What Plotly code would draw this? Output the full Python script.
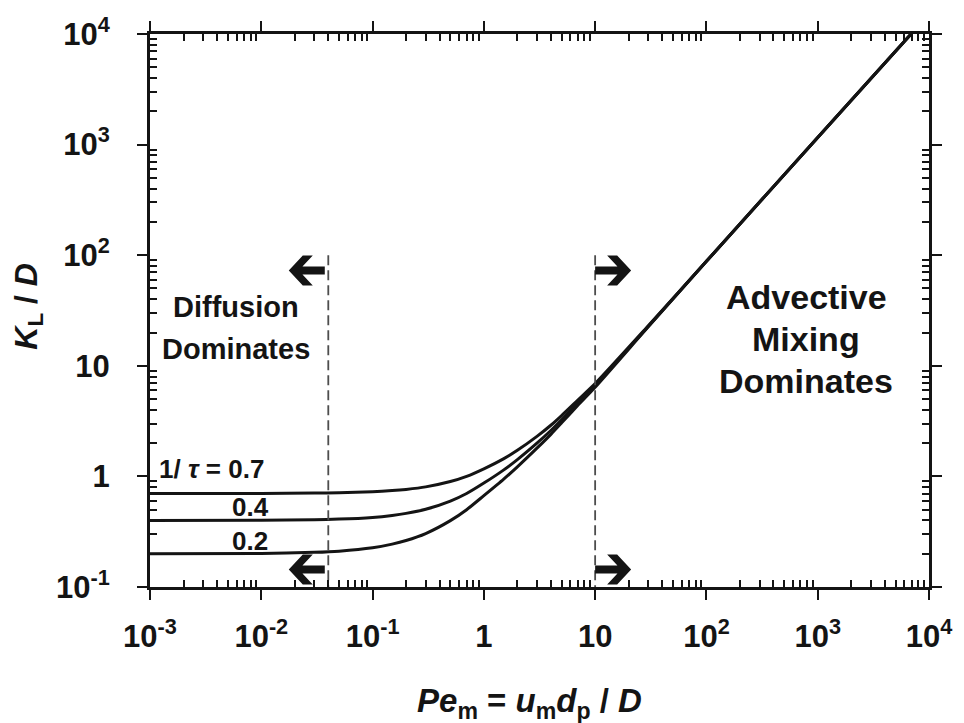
import plotly.graph_objects as go

# Modified Peclet number grid and longitudinal dispersion ratio K_L/D
pe_m = [0.001, 0.01, 0.03, 0.05, 0.1, 0.15, 0.2, 0.3, 0.5, 0.7, 1, 1.5, 2, 3, 4, 5, 7, 10,
        30, 100, 1000, 6900]
k_tau_07 = [0.700, 0.701, 0.706, 0.711, 0.726, 0.744, 0.763, 0.804, 0.898, 1.00, 1.17, 1.44,
            1.72, 2.30, 2.90, 3.55, 4.90, 6.90, 23.0, 88, 1160, 10000]
k_tau_04 = [0.400, 0.401, 0.406, 0.411, 0.426, 0.444, 0.463, 0.504, 0.598, 0.70, 0.87, 1.14,
            1.42, 2.00, 2.60, 3.25, 4.60, 6.60, 22.7, 88, 1160, 10000]
k_tau_02 = [0.200, 0.201, 0.206, 0.211, 0.226, 0.244, 0.263, 0.304, 0.398, 0.50, 0.67, 0.94,
            1.22, 1.80, 2.40, 3.05, 4.40, 6.40, 22.5, 88, 1160, 10000]

curve_labels = ["1/ <i>τ</i> = 0.7", "0.4", "0.2"]

# Regime boundaries (Pe_m), boundary marker height and arrow rows (K_L/D)
pe_diffusion_limit = 0.04
pe_advection_limit = 10
boundary_top = 100
arrow_rows = [72.8, 0.144]

x_tickvals = [1e-3, 1e-2, 1e-1, 1, 10, 1e2, 1e3, 1e4]
x_ticktext = ["10<sup>-3</sup>", "10<sup>-2</sup>", "10<sup>-1</sup>", "1", "10",
              "10<sup>2</sup>", "10<sup>3</sup>", "10<sup>4</sup>"]
y_tickvals = [0.1, 1, 10, 1e2, 1e3, 1e4]
y_ticktext = ["10<sup>-1</sup>", "1", "10", "10<sup>2</sup>", "10<sup>3</sup>", "10<sup>4</sup>"]

INK = "#141414"
FONT = "Liberation Sans, Arial, sans-serif"

fig = go.Figure()

for k in (k_tau_07, k_tau_04, k_tau_02):
    fig.add_trace(go.Scatter(
        x=pe_m, y=k, mode="lines",
        line=dict(color=INK, width=3, shape="spline", smoothing=0.6),
        showlegend=False, hoverinfo="skip",
    ))

# Dashed regime boundaries
for pe_b in (pe_diffusion_limit, pe_advection_limit):
    fig.add_trace(go.Scatter(
        x=[pe_b, pe_b], y=[boundary_top, 0.1], mode="lines",
        line=dict(color="#4d4d4d", width=1.8, dash="10px,5px"),
        showlegend=False, hoverinfo="skip",
    ))

minor_vals = [m * 10 ** d for d in range(-3, 4) for m in range(2, 10)]
minor_vals_y = [m * 10 ** d for d in range(-1, 4) for m in range(2, 10)]

axis_common = dict(
    type="log", showgrid=False, zeroline=False,
    showline=True, linewidth=3, linecolor=INK, mirror="ticks",
    ticks="outside", ticklen=10, tickwidth=2, tickcolor=INK,
    tickfont=dict(family=FONT, size=31, color=INK, weight="bold"),
)

fig.update_xaxes(
    **axis_common, range=[-3, 4],
    tickmode="array", tickvals=x_tickvals, ticktext=x_ticktext,
    ticklabelstandoff=10,
    minor=dict(tickmode="array", tickvals=minor_vals, ticks="inside",
               ticklen=7, tickwidth=1.5, tickcolor=INK, showgrid=False),
)
fig.update_yaxes(
    **axis_common, range=[-1, 4],
    tickmode="array", tickvals=y_tickvals, ticktext=y_ticktext,
    ticklabelstandoff=21,
    minor=dict(tickmode="array", tickvals=minor_vals_y, ticks="inside",
               ticklen=7, tickwidth=1.5, tickcolor=INK, showgrid=False),
)

# Bold chevron arrows drawn in pixel units, anchored at the tail on each boundary
RIGHT_ARROW = ("M 0 4 L 22.3 4 L 12 15 L 22 15 L 36 0 L 22 -15 L 12 -15 "
               "L 22.3 -4 L 0 -4 Z")
LEFT_ARROW = ("M 0 4 L -22.3 4 L -12 15 L -22 15 L -36 0 L -22 -15 L -12 -15 "
              "L -22.3 -4 L 0 -4 Z")
shapes = []
for yv in arrow_rows:
    for pe_b, path in ((pe_diffusion_limit * 0.93, LEFT_ARROW), (pe_advection_limit, RIGHT_ARROW)):
        shapes.append(dict(
            type="path", xref="x", yref="y", xsizemode="pixel", ysizemode="pixel",
            xanchor=pe_b, yanchor=yv, path=path,
            fillcolor=INK, line=dict(width=0), layer="above",
        ))

annotations = []
L, R, T, B = 150, 936, 21, 587


def dom(px, py):
    return (px - L) / (R - L), (B - py) / (B - T)


def caption(text, px, py, size, anchor="center"):
    x, y = dom(px, py)
    annotations.append(dict(
        x=x, y=y, xref="x domain", yref="y domain", text=text, showarrow=False,
        xanchor=anchor, yanchor="middle",
        font=dict(family=FONT, size=size, color=INK, weight="bold"),
    ))


# Region captions
caption("Diffusion", 237, 300, 29)
caption("Dominates", 237, 343, 29)
caption("Advective", 812, 290, 34)
caption("Mixing", 812, 333, 34)
caption("Dominates", 812, 376, 34)

# Curve labels (1/tau values)
caption(curve_labels[0], 157, 466, 26, anchor="left")
caption(curve_labels[1], 251, 505, 26)
caption(curve_labels[2], 251, 540, 26)

# Axis titles
caption("<i>Pe</i><sub>m</sub> = <i>u</i><sub>m</sub><i>d</i><sub>p</sub> / <i>D</i>",
        533, 706, 33)
x, y = dom(27, 300)
annotations.append(dict(
    x=x, y=y, xref="x domain", yref="y domain",
    text="<i>K</i><sub>L</sub> / <i>D</i>", textangle=-90,
    showarrow=False, xanchor="center", yanchor="middle",
    font=dict(family=FONT, size=32, color=INK, weight="bold"),
))

fig.update_layout(
    width=964, height=723,
    margin=dict(l=150, r=28, t=21, b=136),
    paper_bgcolor="white", plot_bgcolor="white",
    annotations=annotations, shapes=shapes,
)

fig.write_html("out.html")
